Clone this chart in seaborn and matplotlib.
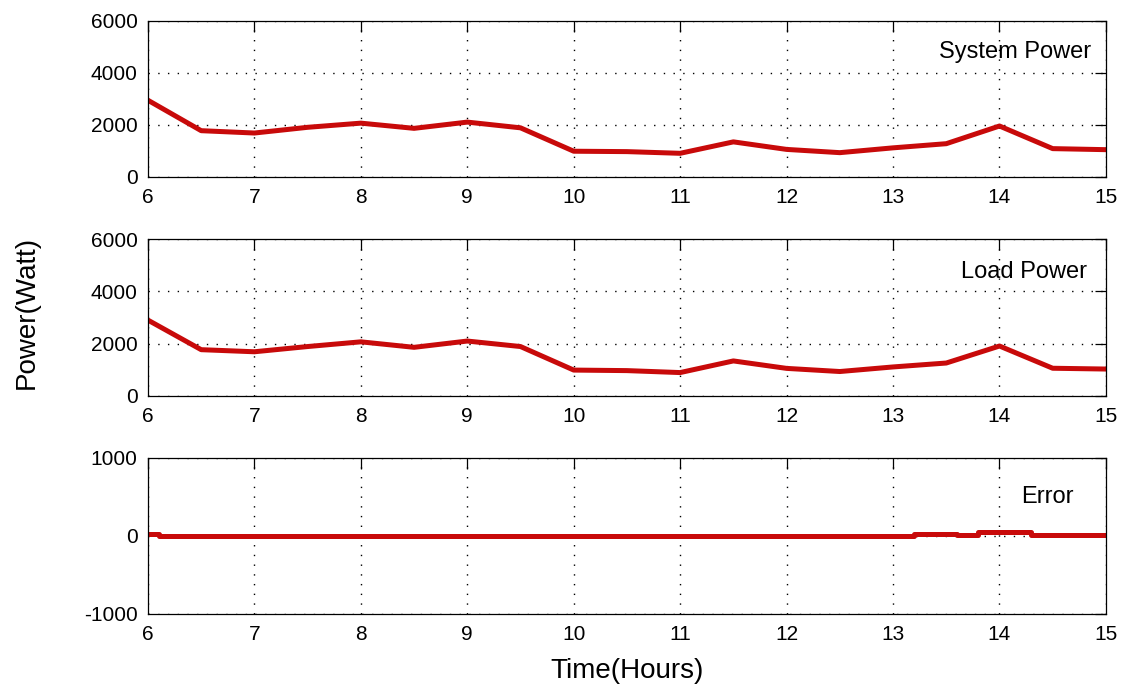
import numpy as np
import pandas as pd
import matplotlib
matplotlib.use("Agg")
import matplotlib.pyplot as plt
import seaborn as sns

# Half-hourly readings from 6:00 to 15:00
hours = [6.0, 6.5, 7.0, 7.5, 8.0, 8.5, 9.0, 9.5, 10.0, 10.5,
         11.0, 11.5, 12.0, 12.5, 13.0, 13.5, 14.0, 14.5, 15.0]
system_power = [2950, 1780, 1690, 1910, 2070, 1870, 2110, 1890, 990, 975,
                910, 1350, 1060, 935, 1120, 1280, 1960, 1090, 1050]
load_power = [2900, 1770, 1690, 1890, 2070, 1860, 2100, 1890, 990, 970,
              895, 1340, 1055, 935, 1110, 1260, 1910, 1060, 1030]

# Error is (almost) zero, with a few small steps
err_hours = [6.0, 6.1, 13.2, 13.6, 13.8, 14.3, 15.0]
err_watts = [20, 0, 25, 15, 45, 15, 10]

panel_labels = ["System Power", "Load Power", "Error"]
power_ticks = [0, 2000, 4000, 6000]
error_ticks = [-1000, 0, 1000]

sns.set_style("white")
plt.rcParams["font.family"] = ["Liberation Sans", "DejaVu Sans"]
plt.rcParams["axes.unicode_minus"] = False
plt.rcParams["text.color"] = "k"

red = "#c80a0a"
fig = plt.figure(figsize=(11.33, 6.87), dpi=100)

# axes rectangles in figure fraction: left, bottom, width, height
rects = [[0.1306, 0.7424, 0.8455, 0.2271],
         [0.1306, 0.4236, 0.8455, 0.2285],
         [0.1306, 0.1063, 0.8455, 0.2271]]
label_pos = [(0.985, 0.80), (0.980, 0.79), (0.966, 0.75)]

panels = [
    (hours, system_power, power_ticks, "default"),
    (hours, load_power, power_ticks, "default"),
    (err_hours, err_watts, error_ticks, "steps-post"),
]

for i, (xs, ys, yticks, style) in enumerate(panels):
    ax = fig.add_axes(rects[i])
    df = pd.DataFrame({"t": xs, "p": ys})
    sns.lineplot(data=df, x="t", y="p", ax=ax, color=red, linewidth=3.6,
                 drawstyle=style, sort=False)
    ax.set_xlim(6, 15)
    ax.set_xticks(range(6, 16))
    ax.set_ylim(yticks[0], yticks[-1])
    ax.set_yticks(yticks)
    ax.set_xlabel("")
    ax.set_ylabel("")
    ax.grid(True, color="k", linestyle=(0, (1, 6)), linewidth=1.0)
    ax.tick_params(direction="in", length=8, width=0.9, top=True, right=True,
                   labelsize=15, colors="k")
    ax.tick_params(axis="x", pad=8)
    ax.tick_params(axis="y", pad=7.5)
    for sp in ax.spines.values():
        sp.set_visible(True)
        sp.set_color("k")
        sp.set_linewidth(0.9)
    lx, ly = label_pos[i]
    ax.text(lx, ly, panel_labels[i], transform=ax.transAxes,
            ha="right", va="center", fontsize=17, color="k")
    if i == 2:
        ax.set_xlabel("Time(Hours)", fontsize=20, labelpad=10, color="k")

fig.text(0.024, 0.545, "Power(Watt)", rotation=90, ha="center", va="center",
         fontsize=20, color="k")

fig.savefig("out.png", dpi=100)
